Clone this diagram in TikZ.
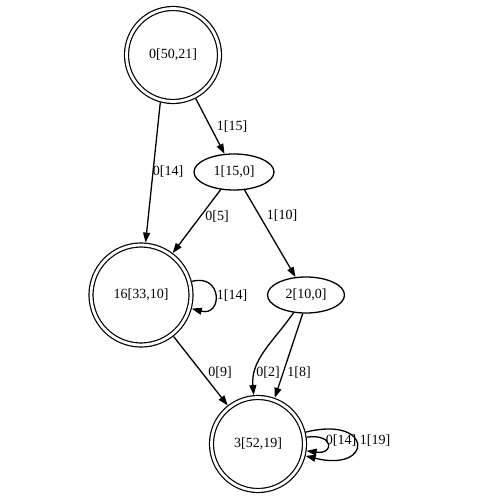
\documentclass[tikz,border=0pt]{standalone}
\usepackage{fontspec}
\setmainfont{Liberation Serif}
\usetikzlibrary{arrows.meta,shapes.geometric}

\begin{document}
\begin{tikzpicture}[
  x=1pt, y=-1pt,
  font=\fontsize{14}{16}\selectfont,
  fin/.style={circle, draw, double, double distance=2.8pt, line width=1.2pt, outer sep=2.6pt, inner sep=0pt},
  plain/.style={ellipse, draw, line width=1.3pt, inner sep=0pt, minimum width=78pt, minimum height=36pt},
  arr/.style={-{Triangle[length=10pt,width=7pt]}, line width=1.3pt},
  lbl/.style={inner sep=1pt},
]
\useasboundingbox (0,0) rectangle (500,500);
% states
\node[fin, minimum size=93pt] (n0) at (173,55) {0[50,21]};
\node[plain, minimum width=80pt] (n1) at (234,172) {1[15,0]};
\node[fin, minimum size=100pt] (n16) at (141,295) {16[33,10]};
\node[plain, minimum width=77pt] (n2) at (306,295) {2[10,0]};
\node[fin, minimum size=93pt] (n3) at (258,444) {3[52,19]};
% transitions
\draw[arr] (n0) -- (n1);
\draw[arr] (n0.-105) -- (n16.85);
\draw[arr] (n1) -- (n16);
\draw[arr] (n1) -- (n2);
\draw[arr] (n16) to[out=15, in=-15, distance=32pt] (n16);
\draw[arr] (n16) -- (n3);
\draw[arr] (n2) to[out=-125, in=95] (n3);
\draw[arr] (n2.-100) -- (n3.70);
\draw[arr] (n3) to[out=8, in=-8, distance=28pt] (n3);
\draw[arr] (n3) to[out=14, in=-14, distance=70pt] (n3);
% labels
\node[lbl] (l01) at (232,127) {1[15]};
\node[lbl] (l016) at (168,172) {0[14]};
\node[lbl] (l116) at (217,217) {0[5]};
\node[lbl] (l12) at (282,216) {1[10]};
\node[lbl] (l1616) at (232,296) {1[14]};
\node[lbl] (l163) at (220,373) {0[9]};
\node[lbl] (l23a) at (268,373) {0[2]};
\node[lbl] (l23b) at (299,373) {1[8]};
\node[lbl] (l33a) at (341,441) {0[14]};
\node[lbl] (l33b) at (375,441) {1[19]};
\end{tikzpicture}
\end{document}
